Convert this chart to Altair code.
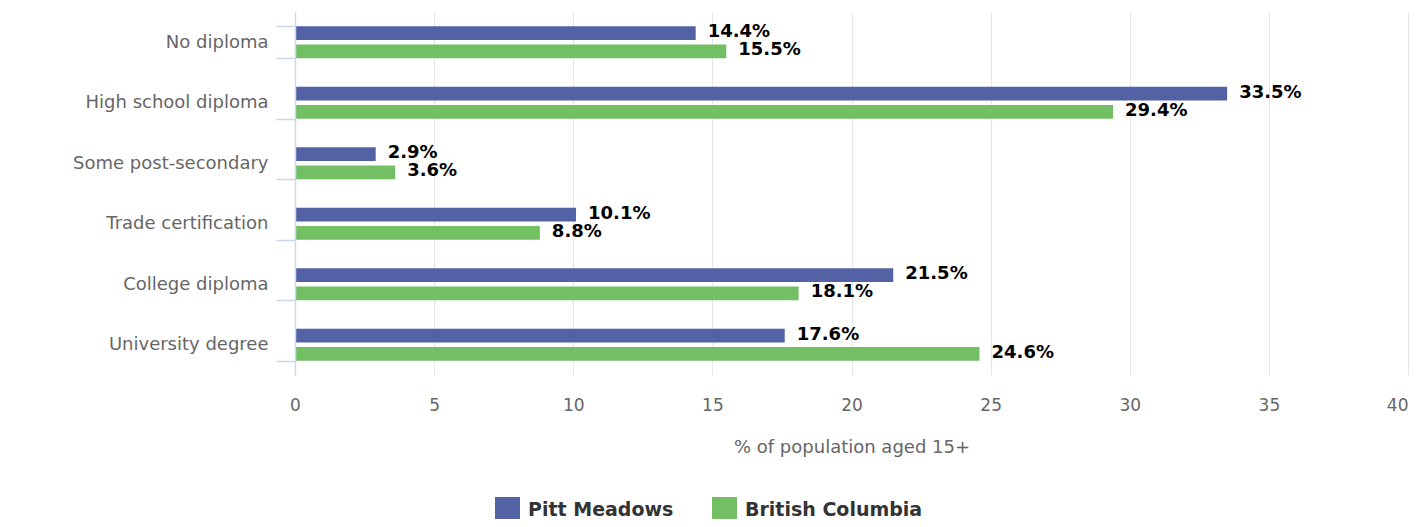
import altair as alt
import pandas as pd

categories = ["No diploma", "High school diploma", "Some post-secondary",
              "Trade certification", "College diploma", "University degree"]
pitt_meadows = [14.4, 33.5, 2.9, 10.1, 21.5, 17.6]
british_columbia = [15.5, 29.4, 3.6, 8.8, 18.1, 24.6]
series = ["Pitt Meadows", "British Columbia"]
colors = ["#5262a5", "#72c063"]
x_ticks = [0, 5, 10, 15, 20, 25, 30, 35, 40]

rows = []
for c, a, b in zip(categories, pitt_meadows, british_columbia):
    rows.append({"category": c, "series": series[0], "value": a})
    rows.append({"category": c, "series": series[1], "value": b})
df = pd.DataFrame(rows)

FONT = "DejaVu Sans"

y = alt.Y(
    "category:N", sort=categories,
    scale=alt.Scale(paddingInner=0.47, paddingOuter=0.235),
    axis=alt.Axis(title=None, tickBand="extent", domainColor="#ccd6eb",
                  domainWidth=1.5, tickColor="#ccd6eb", tickWidth=1.5,
                  tickSize=19, labelPadding=8, labelLimit=400,
                  labelFont=FONT, labelFontSize=18, labelColor="#666666",
                  grid=False, zindex=1),
)
yoff = alt.YOffset("series:N", sort=series, scale=alt.Scale(paddingInner=0.24))
x = alt.X(
    "value:Q", scale=alt.Scale(domain=[0, 40], nice=False),
    axis=alt.Axis(values=x_ticks, title="% of population aged 15+", grid=True,
                  gridColor="#e6e6e6", domain=False, ticks=False, tickSize=0,
                  labelPadding=22, labelFlush=False,
                  labelAlign=alt.ExprRef("datum.value == 40 ? 'right' : 'center'"),
                  labelFont=FONT,
                  labelFontSize=17, labelColor="#666666", titleFont=FONT,
                  titleFontSize=18, titleFontWeight="normal",
                  titleColor="#666666", titlePadding=25),
)

base = alt.Chart(df)

bars = base.mark_bar().encode(
    x=x, y=y, yOffset=yoff,
    color=alt.Color(
        "series:N", sort=series,
        scale=alt.Scale(domain=series, range=colors),
        legend=alt.Legend(title=None, orient="none", legendX=200, legendY=485,
                          direction="horizontal", symbolType="square",
                          symbolSize=625, symbolStrokeWidth=0, symbolOpacity=1,
                          labelFont=FONT, labelFontSize=19, labelLimit=400,
                          labelFontWeight="bold", labelColor="#333333",
                          labelOffset=8, columnPadding=38),
    ),
)

labels = base.mark_text(
    align="left", baseline="middle", dx=12, dy=-1, font=FONT, fontSize=18,
    fontWeight="bold", color="black",
).transform_calculate(
    label="format(datum.value, '.1f') + '%'"
).encode(x=x, y=y, yOffset=yoff, text="label:N")

chart = alt.layer(bars, labels).properties(
    width=1113, height=363,
    autosize=alt.AutoSizeParams(type="none"),
    padding={"left": 287, "top": 4, "right": 8, "bottom": 144},
).configure_view(stroke=None)

chart.save("out.html", embed_options={"renderer": "svg", "actions": False})
